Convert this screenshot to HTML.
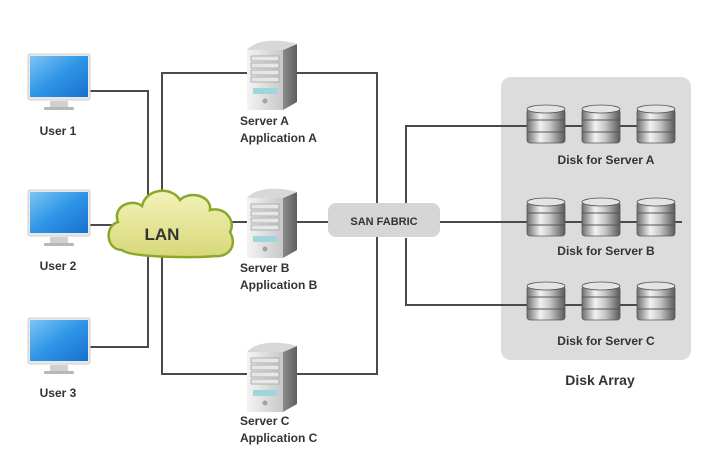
<!DOCTYPE html>
<html><head><style>
html,body{margin:0;padding:0;background:#fff;}
svg{display:block;}
text{font-family:"Liberation Sans",sans-serif;font-weight:bold;fill:#333;}
</style></head><body>
<svg width="723" height="463" viewBox="0 0 723 463" xmlns="http://www.w3.org/2000/svg">
<defs>
<linearGradient id="scr" x1="0" y1="0" x2="1" y2="1">
<stop offset="0" stop-color="#7cc4f4"/><stop offset="0.5" stop-color="#2e95e6"/><stop offset="1" stop-color="#1a6fd0"/></linearGradient>
<linearGradient id="cyl" x1="0" y1="0" x2="1" y2="0">
<stop offset="0" stop-color="#6e6e6e"/><stop offset="0.35" stop-color="#f2f2f2"/><stop offset="0.6" stop-color="#c8c8c8"/><stop offset="1" stop-color="#5a5a5a"/></linearGradient>
<linearGradient id="front" x1="0" y1="0" x2="1" y2="0">
<stop offset="0" stop-color="#f4f4f4"/><stop offset="1" stop-color="#c8c8c8"/></linearGradient>
<linearGradient id="side" x1="0" y1="0" x2="1" y2="0">
<stop offset="0" stop-color="#8a8a8a"/><stop offset="1" stop-color="#5e5e5e"/></linearGradient>
<linearGradient id="cloud" x1="0" y1="0" x2="0" y2="1">
<stop offset="0" stop-color="#f4f2b8"/><stop offset="1" stop-color="#d7d87a"/></linearGradient>
<g id="mon">
<rect x="0" y="0" width="62" height="46" rx="2" fill="#e8e8e8" stroke="#cfcfcf"/>
<rect x="2" y="2" width="58" height="41" fill="url(#scr)"/>
<rect x="22" y="47" width="18" height="6" fill="#d0d0d0"/>
<rect x="16" y="53" width="30" height="3" rx="1" fill="#b8b8b8"/>
</g>
<g id="srv">
<rect x="0" y="12" width="36" height="60" fill="url(#front)"/>
<polygon points="36,12 50,6 50,64 36,72" fill="url(#side)"/>
<path d="M0,12 C8,2 30,0 50,6 L36,12 Z" fill="#d8d8d8"/>
<rect x="4" y="18" width="28" height="5" fill="#e6e6e6" stroke="#999" stroke-width="0.7"/>
<rect x="4" y="25" width="28" height="5" fill="#e6e6e6" stroke="#999" stroke-width="0.7"/>
<rect x="4" y="32" width="28" height="5" fill="#e6e6e6" stroke="#999" stroke-width="0.7"/>
<rect x="4" y="39" width="28" height="5" fill="#e6e6e6" stroke="#999" stroke-width="0.7"/>
<rect x="6" y="50" width="24" height="6" fill="#9fd6dc"/>
<circle cx="18" cy="63" r="2.5" fill="#9a9"/>
</g>
<g id="disk">
<rect x="0" y="4" width="38" height="34" rx="3" fill="url(#cyl)" stroke="#555" stroke-width="0.8"/>
<ellipse cx="19" cy="4" rx="19" ry="4" fill="#e4e4e4" stroke="#555" stroke-width="0.8"/>
<line x1="0" y1="15" x2="38" y2="15" stroke="#555"/>
<line x1="0" y1="27" x2="38" y2="27" stroke="#555"/>
</g>
</defs>

<rect x="501" y="77" width="190" height="283" rx="10" fill="#dcdcdc"/>

<g stroke="#4a4a4a" stroke-width="2" fill="none">
<polyline points="90,91 148,91 148,200"/>
<polyline points="148,255 148,347 90,347"/>
<line x1="90" y1="225" x2="115" y2="225"/>
<polyline points="162,200 162,73 377,73 377,374 162,374 162,255"/>
<line x1="230" y1="222" x2="328" y2="222"/>
<line x1="440" y1="222" x2="682" y2="222"/>
<polyline points="406,205 406,126 640,126"/>
<polyline points="406,238 406,305 640,305"/>
</g>

<path d="M122,250 C106,250 104,226 118,222 C112,206 132,198 142,206 C146,188 172,186 180,200 C190,190 212,196 210,210 C226,206 236,222 230,232 C238,246 228,258 214,256 C204,258 130,258 122,250 Z" fill="url(#cloud)" stroke="#8aa82a" stroke-width="2.5"/>
<text x="162" y="240" style="font-size:17px" text-anchor="middle">LAN</text>

<use href="#mon" x="28" y="54"/>
<use href="#mon" x="28" y="190"/>
<use href="#mon" x="28" y="318"/>
<g style="font-size:12px">
<text x="58" y="135" text-anchor="middle">User 1</text>
<text x="58" y="270" text-anchor="middle">User 2</text>
<text x="58" y="397" text-anchor="middle">User 3</text>
</g>

<use href="#srv" x="247" y="38"/>
<use href="#srv" x="247" y="186"/>
<use href="#srv" x="247" y="340"/>
<g style="font-size:12px">
<text x="240" y="125">Server A</text><text x="240" y="142">Application A</text>
<text x="240" y="272">Server B</text><text x="240" y="289">Application B</text>
<text x="240" y="425">Server C</text><text x="240" y="442">Application C</text>
</g>

<rect x="328" y="203" width="112" height="34" rx="8" fill="#d6d6d6"/>
<text x="384" y="225" text-anchor="middle" style="font-size:11px">SAN FABRIC</text>

<use href="#disk" x="527" y="105"/><use href="#disk" x="582" y="105"/><use href="#disk" x="637" y="105"/>
<use href="#disk" x="527" y="198"/><use href="#disk" x="582" y="198"/><use href="#disk" x="637" y="198"/>
<use href="#disk" x="527" y="282"/><use href="#disk" x="582" y="282"/><use href="#disk" x="637" y="282"/>
<g style="font-size:12px">
<text x="606" y="164" text-anchor="middle">Disk for Server A</text>
<text x="606" y="255" text-anchor="middle">Disk for Server B</text>
<text x="606" y="345" text-anchor="middle">Disk for Server C</text>
</g>
<text x="600" y="385" text-anchor="middle" style="font-size:14px">Disk Array</text>
</svg>
</body></html>
